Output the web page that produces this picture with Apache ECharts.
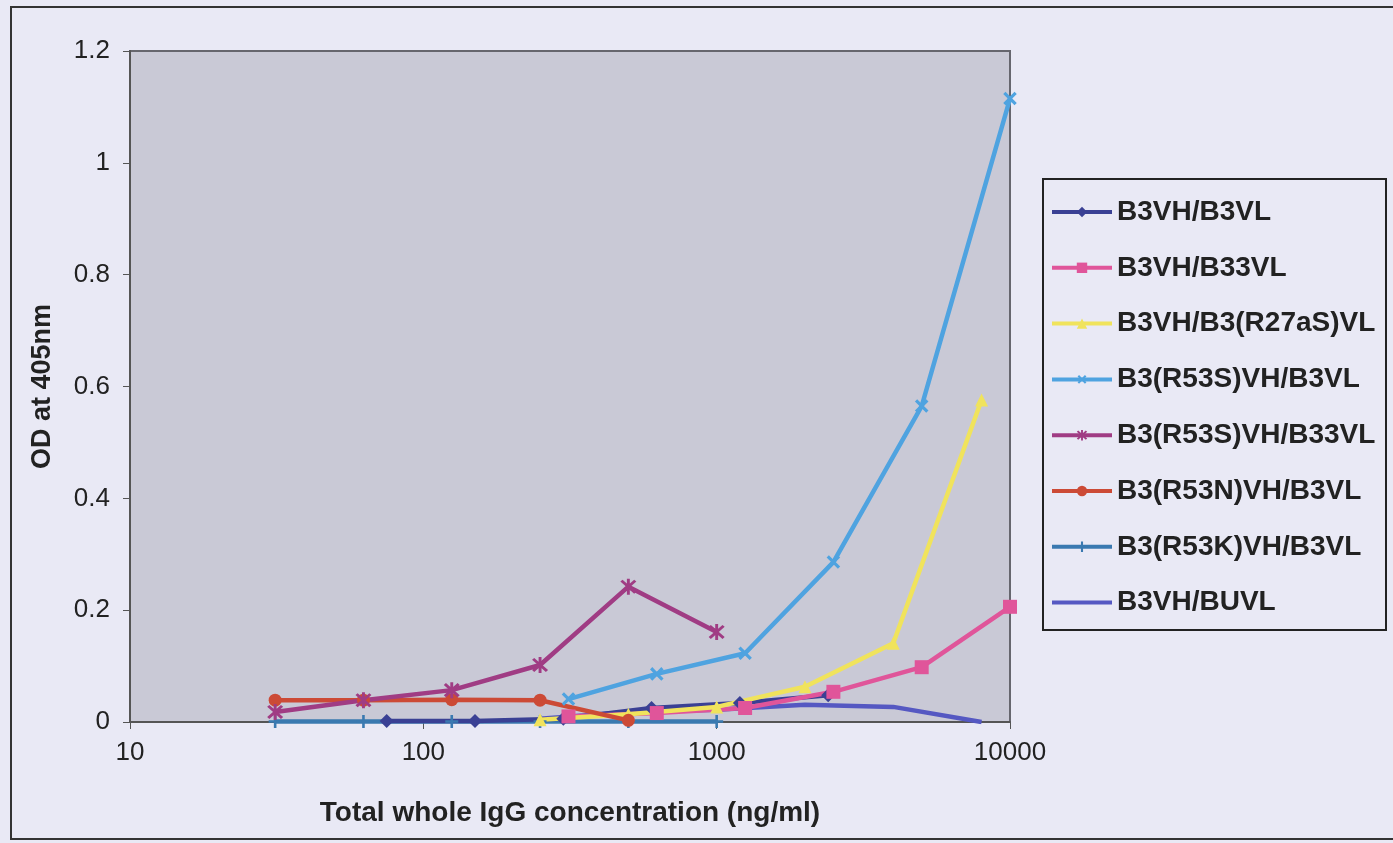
<!DOCTYPE html>
<html>
<head>
<meta charset="utf-8">
<script src="https://cdn.jsdelivr.net/npm/echarts@6/dist/echarts.min.js"></script>
<style>
  html, body { margin: 0; padding: 0; background: #e9e9f5; }
  #chart { width: 1393px; height: 843px; }
</style>
</head>
<body>
<div id="chart"></div>
<script>
// Dilution series (ng/ml)
const concA = [75, 150, 300, 600, 1200, 2400];
const concB = [312.5, 625, 1250, 2500, 5000, 10000];
const concC = [250, 500, 1000, 2000, 4000, 8000];
const concD = [31.25, 62.5, 125, 250, 500, 1000];
const concE = [31.25, 62.5, 125, 250, 500];

// OD at 405nm for each antibody combination
const odB3VH_B3VL = [0.002, 0.002, 0.006, 0.025, 0.034, 0.048];
const odB3VH_B33VL = [0.01, 0.016, 0.025, 0.054, 0.098, 0.206];
const odB3VH_R27aS = [0.004, 0.014, 0.027, 0.063, 0.141, 0.576];
const odR53S_B3VL = [0.041, 0.086, 0.123, 0.286, 0.565, 1.115];
const odR53S_B33VL = [0.018, 0.039, 0.057, 0.102, 0.242, 0.161];
const odR53N_B3VL = [0.039, 0.039, 0.04, 0.039, 0.003];
const odR53K_B3VL = [0.001, 0.001, 0.001, 0.001, 0.001, 0.001];
const odB3VH_BUVL = [0.006, 0.018, 0.022, 0.031, 0.027, 0.0];

const seriesNames = [
  'B3VH/B3VL', 'B3VH/B33VL', 'B3VH/B3(R27aS)VL', 'B3(R53S)VH/B3VL',
  'B3(R53S)VH/B33VL', 'B3(R53N)VH/B3VL', 'B3(R53K)VH/B3VL', 'B3VH/BUVL'
];

// marker shapes
const plusPath = 'path://M4,0 L6,0 L6,4 L10,4 L10,6 L6,6 L6,10 L4,10 L4,6 L0,6 L0,4 L4,4 Z';
const starPath = 'path://M4.2,0 L5.8,0 L5.8,10 L4.2,10 Z M0.6,1.8 L1.8,0.6 L9.4,8.2 L8.2,9.4 Z M8.2,0.6 L9.4,1.8 L1.8,9.4 L0.6,8.2 Z';

function pairs(xs, ys) { return xs.map((x, i) => [x, ys[i]]); }

function lineSeries(name, xs, ys, color, symbol, size, extra) {
  return Object.assign({
    name: name,
    type: 'line',
    data: pairs(xs, ys),
    symbol: symbol,
    symbolSize: size,
    lineStyle: { color: color, width: 4.5 },
    itemStyle: { color: color },
    emphasis: { disabled: true },
    z: 3
  }, extra || {});
}

const chart = echarts.init(document.getElementById('chart'));
const font = '"Liberation Sans", Arial, sans-serif';

chart.setOption({
  backgroundColor: '#e9e9f5',
  animation: false,
  grid: { left: 130, right: 383, top: 51, bottom: 121, show: true,
          backgroundColor: '#c9c9d6', borderColor: '#66666e', borderWidth: 2 },
  xAxis: {
    type: 'log', logBase: 10, min: 10, max: 10000,
    name: 'Total whole IgG concentration (ng/ml)',
    nameLocation: 'middle', nameGap: 77,
    nameTextStyle: { fontFamily: font, fontSize: 28, fontWeight: 'bold', color: '#222' },
    axisLine: { lineStyle: { color: '#555', width: 2 } },
    axisTick: { show: true, length: 7, lineStyle: { color: '#555' } },
    minorTick: { show: false },
    splitLine: { show: false },
    axisLabel: { fontFamily: font, fontSize: 26, color: '#222', margin: 18,
                 formatter: v => String(Math.round(v)) }
  },
  yAxis: {
    type: 'value', min: 0, max: 1.2, interval: 0.2,
    name: 'OD at 405nm',
    nameLocation: 'middle', nameGap: 74,
    nameTextStyle: { fontFamily: font, fontSize: 27, fontWeight: 'bold', color: '#222' },
    axisLine: { show: true, lineStyle: { color: '#555', width: 2 } },
    axisTick: { show: true, length: 7, lineStyle: { color: '#555' } },
    splitLine: { show: false },
    axisLabel: { fontFamily: font, fontSize: 26, color: '#222', margin: 20 }
  },
  legend: {
    orient: 'vertical',
    left: 1045, top: 192,
    itemWidth: 60, itemHeight: 13, itemGap: 25.8,
    data: seriesNames,
    lineStyle: { width: 4 },
    textStyle: { fontFamily: font, fontSize: 28, fontWeight: 'bold', color: '#222', lineHeight: 30 },
    selectedMode: false
  },
  graphic: [
    { type: 'rect', shape: { x: 11, y: 7, width: 1400, height: 832 },
      style: { fill: 'none', stroke: '#333', lineWidth: 2 }, silent: true, z: -1 },
    { type: 'rect', shape: { x: 1043, y: 179, width: 343, height: 451 },
      style: { fill: '#e9e9f5', stroke: '#222', lineWidth: 2 }, silent: true, z: -1 }
  ],
  series: [
    lineSeries(seriesNames[7], concC, odB3VH_BUVL, '#5558c2', 'none', 0,
               { itemStyle: { color: '#5558c2', opacity: 0 } }),
    lineSeries(seriesNames[6], concD, odR53K_B3VL, '#3a79b0', plusPath, 13),
    lineSeries(seriesNames[0], concA, odB3VH_B3VL, '#3a4094', 'diamond', 14),
    lineSeries(seriesNames[1], concB, odB3VH_B33VL, '#e0559a', 'rect', 14),
    lineSeries(seriesNames[2], concC, odB3VH_R27aS, '#f0e35c', 'triangle', 13),
    lineSeries(seriesNames[5], concE, odR53N_B3VL, '#cc4a36', 'circle', 13),
    lineSeries(seriesNames[4], concD, odR53S_B33VL, '#a03c84', starPath, 16),
    lineSeries(seriesNames[3], concB, odR53S_B3VL, '#4fa3e0', plusPath, 16, { symbolRotate: 45 })
  ]
});
</script>
</body>
</html>
